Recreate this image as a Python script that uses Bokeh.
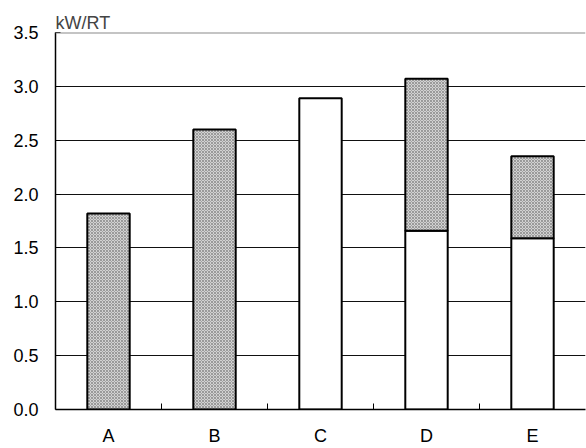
from bokeh.plotting import figure
from bokeh.models import FixedTicker, Range1d, Span
from bokeh.embed import file_html
from bokeh.resources import INLINE

# Energy efficiency per system, kW/RT
categories = ["A", "B", "C", "D", "E"]
base_values = [0.0, 0.0, 2.89, 1.66, 1.59]     # white (lower) segment
total_values = [1.82, 2.60, 2.89, 3.07, 2.35]  # top of each bar
y_ticks = [0.0, 0.5, 1.0, 1.5, 2.0, 2.5, 3.0, 3.5]

FONT = "Liberation Sans"

xs = [i + 0.5 for i in range(len(categories))]

p = figure(width=586, height=448, output_backend="svg", toolbar_location=None,
           x_range=Range1d(0, len(categories)), y_range=Range1d(0, 3.5),
           min_border_left=55, min_border_right=1, min_border_top=32,
           min_border_bottom=0, title="kW/RT")
p.outline_line_color = None
p.background_fill_color = "white"
p.border_fill_color = "white"

p.title.text_font = FONT
p.title.text_font_size = "18px"
p.title.text_font_style = "normal"
p.title.align = "left"
p.title.offset = 0
p.title.standoff = 0

# horizontal reference lines
p.xgrid.grid_line_color = None
p.ygrid.grid_line_color = "#111111"
p.ygrid.grid_line_width = 1
p.ygrid.ticker = FixedTicker(ticks=y_ticks[:-1])
p.add_layout(Span(location=3.5, dimension="width", line_color="#8a8a8a", line_width=2))

# white lower parts and shaded upper parts
lower_idx = [i for i, b in enumerate(base_values) if b > 0]
p.vbar(x=[xs[i] for i in lower_idx], bottom=0, top=[base_values[i] for i in lower_idx],
       width=0.4, fill_color="white", line_color="black", line_width=2)
upper_idx = [i for i in range(len(categories)) if total_values[i] > base_values[i]]
p.vbar(x=[xs[i] for i in upper_idx], bottom=[base_values[i] for i in upper_idx],
       top=[total_values[i] for i in upper_idx], width=0.4,
       fill_color="#d2d2d2", hatch_pattern="diagonal_cross", hatch_scale=3,
       hatch_color="#8c8c8c", hatch_weight=0.8,
       line_color="black", line_width=2)

# y axis
p.yaxis.ticker = FixedTicker(ticks=y_ticks)
p.yaxis.major_label_overrides = {t: f"{t:.1f}" for t in y_ticks}
p.yaxis.major_tick_in = 5
p.yaxis.major_tick_out = 0
p.yaxis.minor_tick_line_color = None
p.yaxis.axis_line_color = "black"
p.yaxis.axis_line_width = 1.5
p.yaxis.major_label_standoff = 17

# x axis: labels at bar centres, ticks between categories
p.xaxis.ticker = FixedTicker(ticks=xs, minor_ticks=list(range(1, len(categories))))
p.xaxis.major_label_overrides = {x: c for x, c in zip(xs, categories)}
p.xaxis.major_tick_line_color = None
p.xaxis.major_tick_out = 0
p.xaxis.major_tick_in = 0
p.xaxis.minor_tick_in = 6
p.xaxis.minor_tick_out = 0
p.xaxis.minor_tick_line_color = "black"
p.xaxis.axis_line_color = "black"
p.xaxis.axis_line_width = 1.5
p.xaxis.major_label_standoff = 16

for ax in (p.xaxis, p.yaxis):
    ax.major_label_text_font = FONT
    ax.major_label_text_font_size = "18px"
    ax.major_label_text_color = "black"

open("out.html", "w").write(file_html(p, INLINE))
